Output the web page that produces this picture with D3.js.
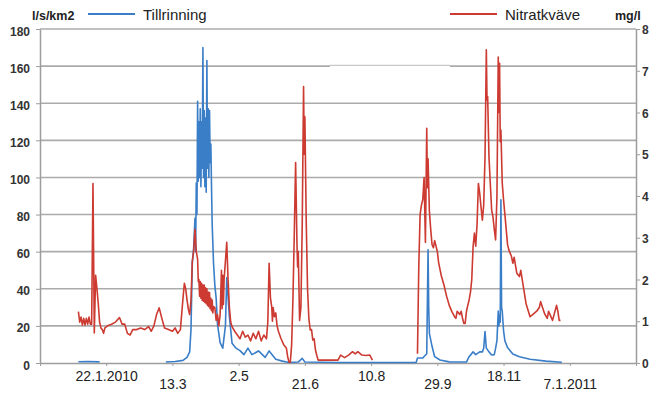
<!DOCTYPE html>
<html>
<head>
<meta charset="utf-8">
<script src="https://cdn.jsdelivr.net/npm/d3@7"></script>
<style>
  body { margin: 0; background: #fff; }
  svg { display: block; font-family: "Liberation Sans", Arial, sans-serif; }
</style>
</head>
<body>
<div id="chart"></div>
<script>
// Tillrinning (l/s/km2), null = no data; "T12" = midday reading
const flowSeries = [
  ["2010-01-01", 0.7], ["2010-01-08", 0.8], ["2010-01-17", 0.6], ["2010-01-18", null],
  ["2010-03-07", null], ["2010-03-08", 0.5], ["2010-03-15", 0.8], ["2010-03-21", 1.4],
  ["2010-03-24", 3], ["2010-03-26", 6], ["2010-03-27", 18], ["2010-03-28", 54],
  ["2010-03-29", 62], ["2010-03-30", 78], ["2010-03-30T12", 60], ["2010-03-31", 97],
  ["2010-03-31T12", 80], ["2010-04-01", 141], ["2010-04-01T12", 98], ["2010-04-02", 130],
  ["2010-04-02T12", 100], ["2010-04-03", 137], ["2010-04-03T12", 95], ["2010-04-04", 130],
  ["2010-04-04T12", 105], ["2010-04-05", 170], ["2010-04-05T12", 100], ["2010-04-06", 136],
  ["2010-04-06T12", 95], ["2010-04-07", 132], ["2010-04-07T12", 92], ["2010-04-08", 163],
  ["2010-04-08T12", 105], ["2010-04-09", 137], ["2010-04-09T12", 100], ["2010-04-10", 136],
  ["2010-04-10T12", 108], ["2010-04-11", 118], ["2010-04-11T12", 95], ["2010-04-12", 75],
  ["2010-04-13", 54], ["2010-04-14", 42], ["2010-04-15", 35], ["2010-04-16", 21],
  ["2010-04-18", 11], ["2010-04-20", 8], ["2010-04-22", 20], ["2010-04-23", 46],
  ["2010-04-25", 25], ["2010-04-27", 10.7], ["2010-04-30", 8], ["2010-05-03", 6.7],
  ["2010-05-06", 4.5], ["2010-05-09", 8], ["2010-05-12", 4.5], ["2010-05-17", 6.5],
  ["2010-05-22", 3], ["2010-05-25", 6.5], ["2010-05-30", 2], ["2010-06-04", 1],
  ["2010-06-09", 0.3], ["2010-06-16", 0.5], ["2010-06-19", 2.5], ["2010-06-21", 0.5],
  ["2010-07-15", 0.3], ["2010-08-15", 0.3], ["2010-09-13", 0.3], ["2010-09-14", 2.7],
  ["2010-09-18", 2.7], ["2010-09-21", 5], ["2010-09-22", 61], ["2010-09-22T12", 30],
  ["2010-09-23", 16], ["2010-09-25", 9], ["2010-09-27", 3.4], ["2010-10-01", 1.6],
  ["2010-10-08", 0.6], ["2010-10-21", 0.5], ["2010-10-23", 3.4], ["2010-10-26", 6],
  ["2010-10-28", 4.5], ["2010-10-31", 6], ["2010-11-02", 6], ["2010-11-03", 8],
  ["2010-11-04", 17], ["2010-11-05", 8], ["2010-11-07", 6], ["2010-11-09", 4.3],
  ["2010-11-11", 4.5], ["2010-11-12", 8], ["2010-11-13", 12], ["2010-11-14", 28],
  ["2010-11-14T12", 20], ["2010-11-15", 26], ["2010-11-15T12", 22], ["2010-11-16", 88],
  ["2010-11-16T12", 30], ["2010-11-17", 28], ["2010-11-18", 17.5], ["2010-11-19", 12],
  ["2010-11-21", 8.3], ["2010-11-25", 4.9], ["2010-11-30", 3.4], ["2010-12-08", 2],
  ["2010-12-20", 1], ["2011-01-01", 0.4]
];

// Nitratkväve (mg/l), null = no data; "T12" = midday reading
const nitrateSeries = [
  ["2010-01-01", 1.23], ["2010-01-02", 0.98], ["2010-01-03", 1.1], ["2010-01-04", 0.91],
  ["2010-01-05", 1.07], ["2010-01-06", 0.91], ["2010-01-07", 1.07], ["2010-01-08", 0.93],
  ["2010-01-09", 1.1], ["2010-01-10", 0.93], ["2010-01-11", 0.93], ["2010-01-12", 4.3],
  ["2010-01-13", 0.72], ["2010-01-14", 2.1], ["2010-01-15", 1.78], ["2010-01-16", 1.42],
  ["2010-01-17", 0.98], ["2010-01-18", 0.84], ["2010-01-19", 0.8], ["2010-01-20", 0.71],
  ["2010-01-21", 0.84], ["2010-01-23", 0.89], ["2010-01-26", 0.93], ["2010-01-29", 0.98],
  ["2010-02-01", 1.09], ["2010-02-03", 0.93], ["2010-02-05", 0.93], ["2010-02-07", 0.71],
  ["2010-02-09", 0.67], ["2010-02-11", 0.8], ["2010-02-14", 0.8], ["2010-02-17", 0.84],
  ["2010-02-20", 0.8], ["2010-02-23", 0.87], ["2010-02-25", 0.76], ["2010-02-27", 0.89],
  ["2010-03-01", 1.16], ["2010-03-03", 1.32], ["2010-03-05", 1.07], ["2010-03-07", 0.84],
  ["2010-03-10", 0.8], ["2010-03-13", 0.76], ["2010-03-15", 0.84], ["2010-03-17", 0.71],
  ["2010-03-19", 0.8], ["2010-03-21", 1.56], ["2010-03-22", 1.91], ["2010-03-23", 1.78],
  ["2010-03-24", 1.51], ["2010-03-25", 1.29], ["2010-03-26", 1.16], ["2010-03-27", 1.51],
  ["2010-03-28", 2.44], ["2010-03-29", 2.67], ["2010-03-30", 3.2], ["2010-03-31", 2.67],
  ["2010-04-01", 2.49], ["2010-04-01T12", 1.95], ["2010-04-02", 2.0], ["2010-04-02T12", 1.6],
  ["2010-04-03", 1.95], ["2010-04-03T12", 1.55], ["2010-04-04", 1.91], ["2010-04-04T12", 1.5],
  ["2010-04-05", 1.87], ["2010-04-05T12", 1.48], ["2010-04-06", 1.87], ["2010-04-06T12", 1.45],
  ["2010-04-07", 1.8], ["2010-04-07T12", 1.42], ["2010-04-08", 1.78], ["2010-04-08T12", 1.38],
  ["2010-04-09", 1.7], ["2010-04-09T12", 1.35], ["2010-04-10", 1.69], ["2010-04-10T12", 1.3],
  ["2010-04-11", 1.55], ["2010-04-11T12", 1.25], ["2010-04-12", 1.51], ["2010-04-12T12", 1.2],
  ["2010-04-13", 1.35], ["2010-04-14", 1.33], ["2010-04-15", 1.02], ["2010-04-16", 1.16],
  ["2010-04-17", 0.89], ["2010-04-18", 1.16], ["2010-04-19", 2.22], ["2010-04-19T12", 1.3],
  ["2010-04-20", 2.1], ["2010-04-20T12", 1.4], ["2010-04-21", 2.0], ["2010-04-22", 2.44],
  ["2010-04-23", 2.89], ["2010-04-24", 2.0], ["2010-04-25", 1.33], ["2010-04-26", 0.98],
  ["2010-04-27", 0.87], ["2010-04-29", 0.76], ["2010-05-01", 0.67], ["2010-05-03", 0.58],
  ["2010-05-05", 0.76], ["2010-05-07", 0.62], ["2010-05-09", 0.67], ["2010-05-11", 0.53],
  ["2010-05-13", 0.71], ["2010-05-15", 0.58], ["2010-05-17", 0.76], ["2010-05-19", 0.53],
  ["2010-05-21", 0.67], ["2010-05-23", 0.58], ["2010-05-24", 0.98], ["2010-05-25", 2.39],
  ["2010-05-26", 1.56], ["2010-05-27", 1.33], ["2010-05-27T12", 1.0], ["2010-05-28", 1.33],
  ["2010-05-29", 1.11], ["2010-05-30", 1.2], ["2010-05-31", 0.89], ["2010-06-01", 0.76],
  ["2010-06-03", 0.58], ["2010-06-05", 0.44], ["2010-06-07", 0.36], ["2010-06-08", 0.15],
  ["2010-06-09", 0.02], ["2010-06-10", 0.02], ["2010-06-11", 0.44], ["2010-06-12", 1.56],
  ["2010-06-13", 3.11], ["2010-06-14", 4.8], ["2010-06-15", 2.89], ["2010-06-15T12", 2.3],
  ["2010-06-16", 2.67], ["2010-06-17", 1.02], ["2010-06-18", 1.33], ["2010-06-19", 3.33],
  ["2010-06-20", 6.62], ["2010-06-20T12", 5.0], ["2010-06-21", 5.9], ["2010-06-22", 3.42],
  ["2010-06-23", 1.78], ["2010-06-24", 1.07], ["2010-06-25", 0.79], ["2010-06-26", 0.8],
  ["2010-06-27", 0.55], ["2010-06-28", 0.58], ["2010-06-29", 0.31], ["2010-06-30", 0.18],
  ["2010-07-01", 0.07], ["2010-07-05", 0.07], ["2010-07-10", 0.07], ["2010-07-16", 0.07],
  ["2010-07-18", 0.19], ["2010-07-21", 0.13], ["2010-07-24", 0.19], ["2010-07-27", 0.27],
  ["2010-07-29", 0.22], ["2010-07-31", 0.27], ["2010-08-03", 0.19], ["2010-08-06", 0.18],
  ["2010-08-09", 0.19], ["2010-08-11", 0.07], ["2010-08-12", null], ["2010-09-13", null],
  ["2010-09-14", 0.22], ["2010-09-15", 2.31], ["2010-09-16", 3.56], ["2010-09-17", 3.78],
  ["2010-09-18", 3.91], ["2010-09-19", 4.44], ["2010-09-20", 2.89], ["2010-09-21", 5.62],
  ["2010-09-21T12", 4.2], ["2010-09-22", 4.89], ["2010-09-23", 3.64], ["2010-09-24", 3.2],
  ["2010-09-25", 2.84], ["2010-09-26", 2.76], ["2010-09-27", 2.93], ["2010-09-29", 2.67],
  ["2010-09-30", 2.4], ["2010-10-02", 2.09], ["2010-10-04", 1.87], ["2010-10-06", 1.6],
  ["2010-10-08", 1.38], ["2010-10-10", 1.23], ["2010-10-12", 1.11], ["2010-10-13", 1.07],
  ["2010-10-14", 1.24], ["2010-10-16", 1.16], ["2010-10-17", 1.24], ["2010-10-18", 1.07],
  ["2010-10-19", 0.95], ["2010-10-20", 0.95], ["2010-10-21", 1.24], ["2010-10-22", 1.38],
  ["2010-10-23", 1.51], ["2010-10-24", 1.69], ["2010-10-25", 2.0], ["2010-10-26", 2.79],
  ["2010-10-27", 3.11], ["2010-10-28", 2.8], ["2010-10-29", 3.33], ["2010-10-30", 4.3],
  ["2010-10-31", 4.07], ["2010-11-01", 3.73], ["2010-11-02", 3.42], ["2010-11-03", 3.78],
  ["2010-11-04", 4.93], ["2010-11-05", 7.5], ["2010-11-05T12", 6.3], ["2010-11-06", 6.38],
  ["2010-11-07", 4.93], ["2010-11-08", 4.3], ["2010-11-09", 3.67], ["2010-11-10", 3.5],
  ["2010-11-11", 3.2], ["2010-11-12", 2.95], ["2010-11-13", 3.98], ["2010-11-14", 7.33],
  ["2010-11-14T12", 6.0], ["2010-11-15", 7.18], ["2010-11-15T12", 5.3], ["2010-11-16", 5.58],
  ["2010-11-17", 4.31], ["2010-11-18", 3.91], ["2010-11-19", 3.56], ["2010-11-20", 3.2],
  ["2010-11-21", 2.84], ["2010-11-22", 2.71], ["2010-11-24", 2.55], ["2010-11-25", 2.39],
  ["2010-11-26", 2.53], ["2010-11-28", 2.15], ["2010-11-30", 2.07], ["2010-12-01", 2.22],
  ["2010-12-03", 1.82], ["2010-12-05", 1.42], ["2010-12-08", 1.11], ["2010-12-10", 1.16],
  ["2010-12-13", 1.24], ["2010-12-15", 1.33], ["2010-12-16", 1.47], ["2010-12-19", 1.18],
  ["2010-12-21", 1.07], ["2010-12-22", 1.24], ["2010-12-25", 1.02], ["2010-12-28", 1.38],
  ["2010-12-29", 1.24], ["2010-12-30", 1.02], ["2010-12-31", 1.02]
];

// x axis: one tick every 50 days, labels on the inner ones
const tickDates = ["2009-12-03", "2010-01-22", "2010-03-13", "2010-05-02", "2010-06-21",
  "2010-08-10", "2010-09-29", "2010-11-18", "2011-01-07", "2011-02-26"];
const tickLabels = ["", "22.1.2010", "13.3", "2.5", "21.6", "10.8", "29.9", "18.11", "7.1.2011", ""];
const leftTicks = [0, 20, 40, 60, 80, 100, 120, 140, 160, 180];
const rightTicks = [0, 1, 2, 3, 4, 5, 6, 7, 8];

const parseDay = d3.utcParse("%Y-%m-%d");
const parseHour = d3.utcParse("%Y-%m-%dT%H");
const parse = s => s.length > 10 ? parseHour(s) : parseDay(s);

let margin = {top: 29, right: 19, bottom: 31, left: 40}
  , width = 655 - margin.left - margin.right
  , height = 394 - margin.top - margin.bottom;

let root = d3.select("#chart").append("svg")
  .attr("width", 655)
  .attr("height", 394);

let svg = root.append("g")
  .attr("transform", "translate(" + margin.left + "," + margin.top + ")");

let xScale = d3.scaleUtc()
  .domain([parse(tickDates[0]), parse(tickDates[tickDates.length - 1])])
  .range([0, width]);

let yLeft = d3.scaleLinear().domain([0, 180]).range([height, 0]);
let yRight = d3.scaleLinear().domain([0, 8]).range([height, 0]);

const gridColor = "#ababab";
const axisColor = "#9d9d9d";
const blue = "#3a7ec8";
const red = "#cc3a31";

// horizontal grid
svg.append("g")
  .selectAll("line")
  .data(leftTicks.filter(d => d > 0))
  .enter().append("line")
  .attr("x1", 0).attr("x2", width)
  .attr("y1", d => yLeft(d)).attr("y2", d => yLeft(d))
  .attr("stroke", gridColor)
  .attr("stroke-width", 1.6);

// small glitch on the 160 gridline in the original
svg.append("line")
  .attr("x1", 290).attr("x2", 410)
  .attr("y1", yLeft(160)).attr("y2", yLeft(160))
  .attr("stroke", "#fff").attr("stroke-width", 2.4);
svg.append("line")
  .attr("x1", 290).attr("x2", 410)
  .attr("y1", yLeft(160) - 0.8).attr("y2", yLeft(160) - 0.8)
  .attr("stroke", "#777").attr("stroke-width", 0.5);

// left axis
let leftAxis = svg.append("g")
  .call(d3.axisLeft(yLeft).tickValues(leftTicks).tickSize(4).tickSizeOuter(0));
leftAxis.select(".domain").attr("stroke", axisColor).attr("stroke-width", 1.5);
leftAxis.selectAll(".tick line").attr("stroke", axisColor);
leftAxis.selectAll(".tick text")
  .attr("x", -10).attr("dy", "0.5em")
  .attr("font-size", 12).attr("font-weight", "bold").attr("fill", "#333")
  .style("font-family", "'Liberation Sans', Arial, sans-serif");

// right axis
let rightAxis = svg.append("g")
  .attr("transform", "translate(" + width + ",0)")
  .call(d3.axisRight(yRight).tickValues(rightTicks).tickSize(4).tickSizeOuter(0));
rightAxis.select(".domain").attr("stroke", axisColor).attr("stroke-width", 1.5);
rightAxis.selectAll(".tick line").attr("stroke", axisColor);
rightAxis.selectAll(".tick text")
  .attr("x", 6).attr("dy", "0.38em")
  .attr("font-size", 12).attr("font-weight", "bold").attr("fill", "#333")
  .style("font-family", "'Liberation Sans', Arial, sans-serif");

// bottom axis, labels staggered on two rows
let bottomAxis = svg.append("g")
  .attr("transform", "translate(0," + height + ")")
  .call(d3.axisBottom(xScale)
    .tickValues(tickDates.map(parse))
    .tickSize(3).tickSizeOuter(0)
    .tickFormat((d, i) => tickLabels[i]));
bottomAxis.select(".domain").attr("stroke", axisColor).attr("stroke-width", 1.5);
bottomAxis.selectAll(".tick line").attr("stroke", axisColor);
bottomAxis.selectAll(".tick text")
  .attr("dy", 0)
  .attr("y", (d, i) => i % 2 === 1 ? 18 : 25.5)
  .attr("font-size", 14).attr("fill", "#222")
  .style("font-family", "'Liberation Sans', Arial, sans-serif");

let flowLine = d3.line()
  .defined(d => d[1] !== null)
  .x(d => xScale(parse(d[0])))
  .y(d => yLeft(d[1]));

let nitrateLine = d3.line()
  .defined(d => d[1] !== null)
  .x(d => xScale(parse(d[0])))
  .y(d => yRight(d[1]));

svg.append("path")
  .datum(flowSeries)
  .attr("fill", "none")
  .attr("stroke", blue)
  .attr("stroke-width", 1.6)
  .attr("stroke-linejoin", "round")
  .attr("d", flowLine);

svg.append("path")
  .datum(nitrateSeries)
  .attr("fill", "none")
  .attr("stroke", red)
  .attr("stroke-width", 1.6)
  .attr("stroke-linejoin", "round")
  .attr("d", nitrateLine);

// unit labels and legend (outside the plot area)
root.append("text")
  .attr("x", 32).attr("y", 19.5)
  .attr("font-size", 12.5).attr("font-weight", "bold").attr("fill", "#222")
  .text("l/s/km2");

root.append("text")
  .attr("x", 615).attr("y", 19.5)
  .attr("font-size", 12.5).attr("font-weight", "bold").attr("fill", "#222")
  .text("mg/l");

const legendItems = [
  {label: "Tillrinning", color: blue, x: 88},
  {label: "Nitratkväve", color: red, x: 450}
];

let legend = root.selectAll(".legend")
  .data(legendItems)
  .enter().append("g")
  .attr("class", "legend")
  .attr("transform", d => "translate(" + d.x + ",14)");

legend.append("line")
  .attr("x1", 0).attr("x2", 47)
  .attr("stroke", d => d.color)
  .attr("stroke-width", 2.2);

legend.append("text")
  .attr("x", 55).attr("y", 6)
  .attr("font-size", 15).attr("fill", "#222")
  .text(d => d.label);
</script>
</body>
</html>
